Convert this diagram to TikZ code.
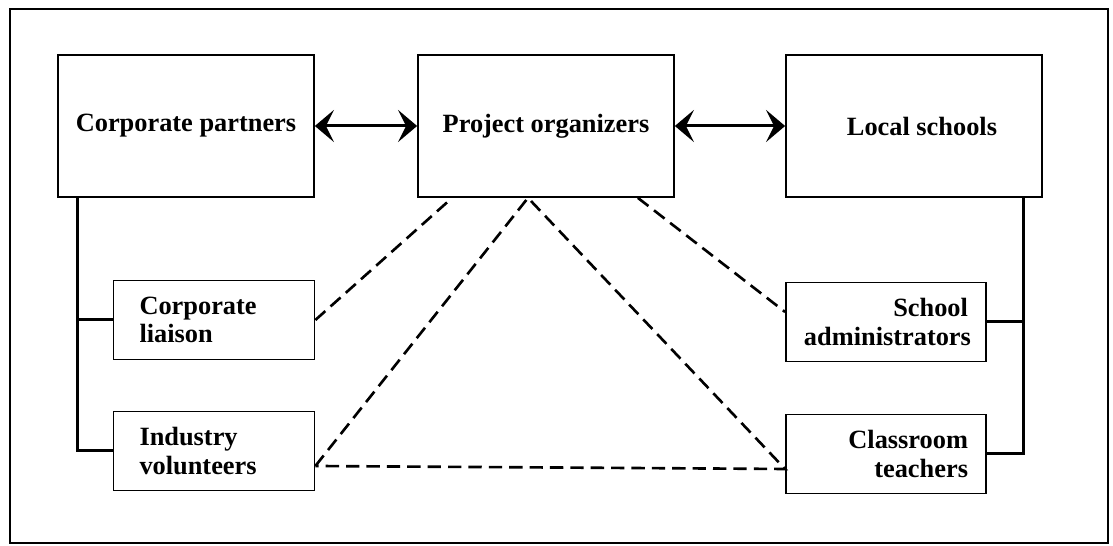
\documentclass[tikz,border=0pt]{standalone}
\usepackage{fontspec}
\setmainfont{Liberation Serif}
\usetikzlibrary{arrows.meta}
\tikzset{
  bigbox/.style={draw, line width=.5pt, minimum width=2.56cm, minimum height=1.42cm, inner sep=0pt},
  leftbox/.style={draw, line width=.5pt, minimum height=.79cm, inner xsep=.26cm, text width=1.49cm, align=left},
  rightbox/.style={draw, line width=.5pt, minimum height=.79cm, inner xsep=.18cm, text width=1.64cm, align=right},
  link/.style={line width=.85pt},
  dashlink/.style={line width=.75pt, dash pattern=on 3.8pt off 2pt},
}
\begin{document}
\begin{tikzpicture}[>={Stealth[length=.19cm, width=.32cm, inset=.08cm]}, font=\bfseries\fontsize{7.5}{8}\selectfont]
\useasboundingbox (0,0) rectangle (11.13,5.46);
\draw[line width=.7pt] (.10,.03) rectangle (11.08,5.37);
\node[bigbox] (cp) at (1.86,4.20) {Corporate partners};
\node[bigbox] (po) at (5.46,4.20) {Project organizers};
\node[bigbox] (ls) at (9.14,4.20) {\hspace{.16cm}Local schools};
\node[leftbox] (cl) at (2.14,2.26) {Corporate\\liaison};
\node[leftbox] (iv) at (2.14,.95) {Industry\\volunteers};
\node[rightbox] (sa) at (8.86,2.24) {School\\administrators};
\node[rightbox] (ct) at (8.86,.92) {Classroom\\teachers};
% arrows between the top boxes
\draw[link, <->] (cp.east) -- (po.west);
\draw[link, <->] (po.east) -- (ls.west);
% solid trees
\coordinate (lbus) at ([xshift=.2cm]cp.south west);
\coordinate (rbus) at ([xshift=-.19cm]ls.south east);
\draw[link] (lbus) |- (cl.west);
\draw[link] (lbus) |- (iv.west);
\draw[link] (rbus) |- (sa.east);
\draw[link] (rbus) |- (ct.east);
% dashed lines
\coordinate (pa) at ([xshift=.35cm]po.south west);
\coordinate (pb) at ([xshift=-.18cm]po.south);
\coordinate (pc) at ([xshift=-.37cm]po.south east);
\coordinate (ivc) at ([yshift=-.15cm]iv.east);
\coordinate (ctc) at ([yshift=-.15cm]ct.west);
\coordinate (sac) at ([yshift=.1cm]sa.west);
\draw[dashlink] (cl.east) -- (pa);
\draw[dashlink] (pc) -- (sac);
\draw[dashlink] (ivc) -- (pb) -- (ctc) -- cycle;
\end{tikzpicture}
\end{document}
